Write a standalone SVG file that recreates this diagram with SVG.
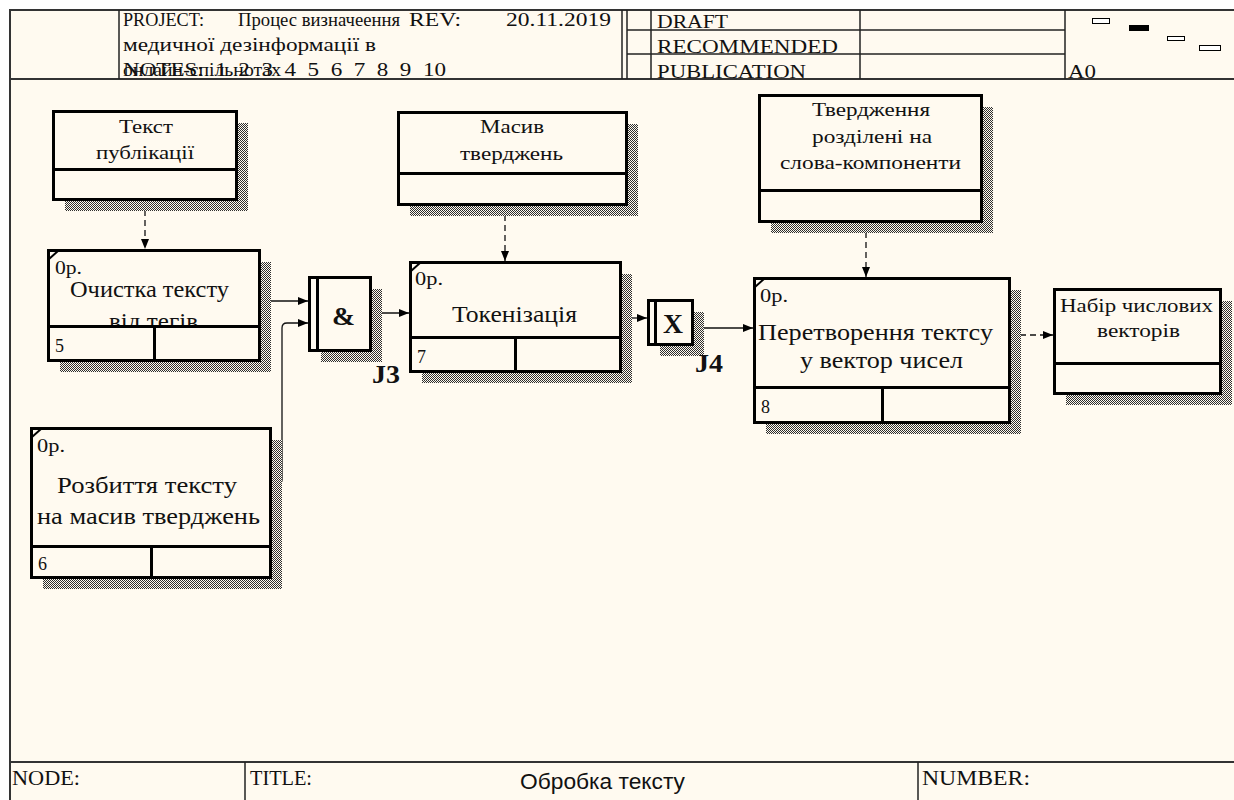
<svg xmlns="http://www.w3.org/2000/svg" width="1234" height="800" viewBox="0 0 1234 800">
  <defs>
    <style>
      .t { font-family: "Liberation Serif", "Times New Roman", serif; fill: #111; }
      .s18 { font-size: 18px; }
      .s19 { font-size: 19px; }
      .s22 { font-size: 22px; }
      .s23 { font-size: 23px; }
      .bold { font-weight: bold; }
      .sans { font-family: "Liberation Sans", Arial, sans-serif; fill: #111; }
      .frame { stroke: #333; stroke-width: 2; fill: none; }
      .hline { stroke: #222; stroke-width: 1.5; fill: none; }
      .box { fill: #fffaf0; stroke: #000; stroke-width: 3; }
      .div { stroke: #000; stroke-width: 3; fill: none; }
      .corner { stroke: #000; stroke-width: 2; }
      .shadow { fill: url(#hatch); }
      .arrow { stroke: #111; stroke-width: 1.3; fill: none; marker-end: url(#ah); }
      .dash { stroke-dasharray: 6 4; }
    </style>
    <pattern id="hatch" width="2" height="2" patternUnits="userSpaceOnUse">
      <rect width="2" height="2" fill="#fffaf0"/>
      <rect x="0" y="0" width="1" height="1" fill="#2e2e2e"/>
      <rect x="1" y="1" width="1" height="1" fill="#2e2e2e"/>
    </pattern>
    <marker id="ah" markerWidth="10" markerHeight="8" refX="10" refY="4" orient="auto" markerUnits="userSpaceOnUse">
      <path d="M0,0 L10,4 L0,8 z" fill="#000"/>
    </marker>
    <clipPath id="clip-clean">
      <rect x="48" y="250" width="211" height="75"/>
    </clipPath>
  </defs>

  <!-- page -->
  <rect width="1234" height="800" fill="#ffffff"/>
  <rect x="10" y="10" width="1224" height="790" fill="#fffaf0"/>

  <!-- form frame: header and footer -->
  <g id="form">
    <line class="frame" x1="9" y1="10" x2="1234" y2="10"/>
    <line class="frame" x1="10" y1="10" x2="10" y2="800"/>
    <line class="frame" x1="10" y1="79" x2="1234" y2="79"/>
    <line class="hline" x1="119" y1="10" x2="119" y2="79"/>
    <line class="hline" x1="622" y1="10" x2="622" y2="79"/>
    <line class="hline" x1="627" y1="10" x2="627" y2="79"/>
    <line class="hline" x1="651" y1="10" x2="651" y2="79"/>
    <line class="hline" x1="860" y1="10" x2="860" y2="79"/>
    <line class="hline" x1="1065" y1="10" x2="1065" y2="79"/>
    <line class="hline" x1="627" y1="30" x2="1065" y2="30"/>
    <line class="hline" x1="627" y1="54" x2="1065" y2="54"/>

    <text class="t s18" x="123" y="26" textLength="81" lengthAdjust="spacingAndGlyphs">PROJECT:</text>
    <text class="t s18" x="238" y="26" textLength="162" lengthAdjust="spacingAndGlyphs">Процес визначеення</text>
    <text class="t s18" x="409" y="26" textLength="52" lengthAdjust="spacingAndGlyphs">REV:</text>
    <text class="t s18" x="506" y="26" textLength="105" lengthAdjust="spacingAndGlyphs">20.11.2019</text>
    <text class="t s18" x="123" y="51" textLength="253" lengthAdjust="spacingAndGlyphs">медичної дезінформації в</text>
    <text class="t s18" x="123" y="76" textLength="158" lengthAdjust="spacingAndGlyphs">онлайн-спільнотах</text>
    <text class="t s18" x="123" y="76" textLength="323" lengthAdjust="spacingAndGlyphs" xml:space="preserve">NOTES:  1  2  3  4  5  6  7  8  9  10</text>

    <text class="t s18" x="657" y="28" textLength="71" lengthAdjust="spacingAndGlyphs">DRAFT</text>
    <text class="t s18" x="657" y="53" textLength="181" lengthAdjust="spacingAndGlyphs">RECOMMENDED</text>
    <text class="t s18" x="657" y="78" textLength="149" lengthAdjust="spacingAndGlyphs">PUBLICATION</text>
    <text class="t s18" x="1068" y="78" textLength="28" lengthAdjust="spacingAndGlyphs">A0</text>

    <rect x="1092.5" y="18.5" width="17" height="5" fill="#fff" stroke="#000" stroke-width="1"/>
    <rect x="1129" y="25" width="20" height="6" fill="#000"/>
    <rect x="1167.5" y="36.5" width="17" height="4" fill="#fff" stroke="#000" stroke-width="1"/>
    <rect x="1199.5" y="45.5" width="21" height="5" fill="#fff" stroke="#000" stroke-width="1"/>

    <line class="frame" x1="10" y1="762" x2="1234" y2="762"/>
    <line class="hline" x1="245" y1="762" x2="245" y2="800"/>
    <line class="hline" x1="918" y1="762" x2="918" y2="800"/>
    <text class="t s22" x="12" y="785" textLength="68" lengthAdjust="spacingAndGlyphs">NODE:</text>
    <text class="t s22" x="250" y="785" textLength="62" lengthAdjust="spacingAndGlyphs">TITLE:</text>
    <text class="t s22" x="922" y="785" textLength="108" lengthAdjust="spacingAndGlyphs">NUMBER:</text>
    <text class="sans" font-size="22" x="520" y="789" textLength="165" lengthAdjust="spacingAndGlyphs">Обробка тексту</text>
  </g>

  <!-- connectors -->
  <g id="connectors">
    <path class="arrow dash" d="M145,200 V249"/>
    <path class="arrow" d="M260,301 H308"/>
    <path class="arrow" d="M271,483 H279 Q282,483 282,480 V328 Q282,323 287,323 H308"/>
    <path class="arrow" d="M371,313 H409"/>
    <path class="arrow dash" d="M505,205 V261"/>
    <path class="arrow" d="M621,318 H647"/>
    <path class="arrow" d="M693,328 H753"/>
    <path class="arrow dash" d="M866,222 V277"/>
    <path class="arrow dash" d="M1010,335 H1053"/>
  </g>

  <!-- arrow label box: Текст публікації -->
  <g id="data-text">
    <rect class="shadow" x="65" y="123" width="183" height="88"/>
    <rect class="box" x="53.5" y="111.5" width="183" height="88"/>
    <line class="div" x1="53.5" y1="169.5" x2="236.5" y2="169.5"/>
    <text class="t s19" x="119" y="133" textLength="54" lengthAdjust="spacingAndGlyphs">Текст</text>
    <text class="t s19" x="96" y="159" textLength="98" lengthAdjust="spacingAndGlyphs">публікації</text>
  </g>

  <!-- activity 5 -->
  <g id="act-clean">
    <rect class="shadow" x="60" y="262" width="211" height="110"/>
    <rect class="box" x="48.5" y="250.5" width="211" height="110"/>
    <line class="div" x1="48.5" y1="326.5" x2="259.5" y2="326.5"/>
    <line class="div" x1="154.5" y1="326.5" x2="154.5" y2="360.5"/>
    <line class="corner" x1="49" y1="259" x2="58" y2="251"/>
    <text class="t s18" x="55" y="274" textLength="27" lengthAdjust="spacingAndGlyphs">0р.</text>
    <text class="t s23" x="70" y="297" textLength="159" lengthAdjust="spacingAndGlyphs">Очистка тексту</text>
    <g clip-path="url(#clip-clean)">
      <text class="t s23" x="109" y="329" textLength="89" lengthAdjust="spacingAndGlyphs">від тегів</text>
    </g>
    <text class="t s18" x="55" y="352">5</text>
  </g>

  <!-- activity 6 -->
  <g id="act-split">
    <rect class="shadow" x="43" y="440" width="239" height="149"/>
    <rect class="box" x="31.5" y="428.5" width="239" height="149"/>
    <line class="div" x1="31.5" y1="546.5" x2="270.5" y2="546.5"/>
    <line class="div" x1="151.5" y1="546.5" x2="151.5" y2="577.5"/>
    <line class="corner" x1="32" y1="437" x2="41" y2="429"/>
    <text class="t s18" x="37" y="452" textLength="28" lengthAdjust="spacingAndGlyphs">0р.</text>
    <text class="t s23" x="57" y="493" textLength="180" lengthAdjust="spacingAndGlyphs">Розбиття тексту</text>
    <text class="t s23" x="37" y="524" textLength="223" lengthAdjust="spacingAndGlyphs">на масив тверджень</text>
    <text class="t s18" x="38" y="570">6</text>
  </g>

  <!-- junction J3 (AND) -->
  <g id="j3">
    <rect class="shadow" x="321" y="289" width="61" height="73"/>
    <rect class="box" x="309.5" y="277.5" width="61" height="73"/>
    <line class="div" x1="317.5" y1="277.5" x2="317.5" y2="350.5"/>
    <text class="t bold" font-size="26" x="332" y="325" textLength="23" lengthAdjust="spacingAndGlyphs">&amp;</text>
    <text class="t bold" font-size="25" x="372" y="383" textLength="28" lengthAdjust="spacingAndGlyphs">J3</text>
  </g>

  <!-- arrow label box: Масив тверджень -->
  <g id="data-array">
    <rect class="shadow" x="410" y="124" width="228" height="92"/>
    <rect class="box" x="398.5" y="112.5" width="228" height="92"/>
    <line class="div" x1="398.5" y1="173.5" x2="626.5" y2="173.5"/>
    <text class="t s19" x="480" y="133" textLength="64" lengthAdjust="spacingAndGlyphs">Масив</text>
    <text class="t s19" x="460" y="160" textLength="103" lengthAdjust="spacingAndGlyphs">тверджень</text>
  </g>

  <!-- activity 7 -->
  <g id="act-token">
    <rect class="shadow" x="422" y="274" width="210" height="109"/>
    <rect class="box" x="410.5" y="262.5" width="210" height="109"/>
    <line class="div" x1="410.5" y1="337.5" x2="620.5" y2="337.5"/>
    <line class="div" x1="515.5" y1="337.5" x2="515.5" y2="371.5"/>
    <line class="corner" x1="411" y1="271" x2="420" y2="263"/>
    <text class="t s18" x="415" y="285" textLength="28" lengthAdjust="spacingAndGlyphs">0р.</text>
    <text class="t s23" x="452" y="322" textLength="125" lengthAdjust="spacingAndGlyphs">Токенізація</text>
    <text class="t s18" x="417" y="363">7</text>
  </g>

  <!-- junction J4 (XOR) -->
  <g id="j4">
    <rect class="shadow" x="660" y="312" width="44" height="44"/>
    <rect class="box" x="648.5" y="300.5" width="44" height="44"/>
    <line class="div" x1="655.5" y1="300.5" x2="655.5" y2="344.5"/>
    <text class="t bold" font-size="28" x="663" y="333" textLength="20" lengthAdjust="spacingAndGlyphs">X</text>
    <text class="t bold" font-size="25" x="695" y="372" textLength="28" lengthAdjust="spacingAndGlyphs">J4</text>
  </g>

  <!-- arrow label box: Твердження розділені на слова-компоненти -->
  <g id="data-words">
    <rect class="shadow" x="771" y="107" width="222" height="126"/>
    <rect class="box" x="759.5" y="95.5" width="222" height="126"/>
    <line class="div" x1="759.5" y1="190.5" x2="981.5" y2="190.5"/>
    <text class="t s19" x="812" y="116" textLength="118" lengthAdjust="spacingAndGlyphs">Твердження</text>
    <text class="t s19" x="812" y="143" textLength="120" lengthAdjust="spacingAndGlyphs">розділені на</text>
    <text class="t s19" x="780" y="169" textLength="181" lengthAdjust="spacingAndGlyphs">слова-компоненти</text>
  </g>

  <!-- activity 8 -->
  <g id="act-vector">
    <rect class="shadow" x="766" y="290" width="255" height="144"/>
    <rect class="box" x="754.5" y="278.5" width="255" height="144"/>
    <line class="div" x1="754.5" y1="387.5" x2="1009.5" y2="387.5"/>
    <line class="div" x1="882.5" y1="387.5" x2="882.5" y2="422.5"/>
    <line class="corner" x1="755" y1="287" x2="764" y2="279"/>
    <text class="t s18" x="760" y="302" textLength="28" lengthAdjust="spacingAndGlyphs">0р.</text>
    <text class="t s23" x="758" y="340" textLength="235" lengthAdjust="spacingAndGlyphs">Перетворення тектсу</text>
    <text class="t s23" x="800" y="368" textLength="163" lengthAdjust="spacingAndGlyphs">у вектор чисел</text>
    <text class="t s18" x="761" y="413">8</text>
  </g>

  <!-- arrow label box: Набір числових векторів -->
  <g id="data-vectors">
    <rect class="shadow" x="1066" y="301" width="166" height="104"/>
    <rect class="box" x="1054.5" y="289.5" width="166" height="104"/>
    <line class="div" x1="1054.5" y1="363.5" x2="1220.5" y2="363.5"/>
    <text class="t s19" x="1060" y="312" textLength="153" lengthAdjust="spacingAndGlyphs">Набір числових</text>
    <text class="t s19" x="1097" y="337" textLength="83" lengthAdjust="spacingAndGlyphs">векторів</text>
  </g>
</svg>
